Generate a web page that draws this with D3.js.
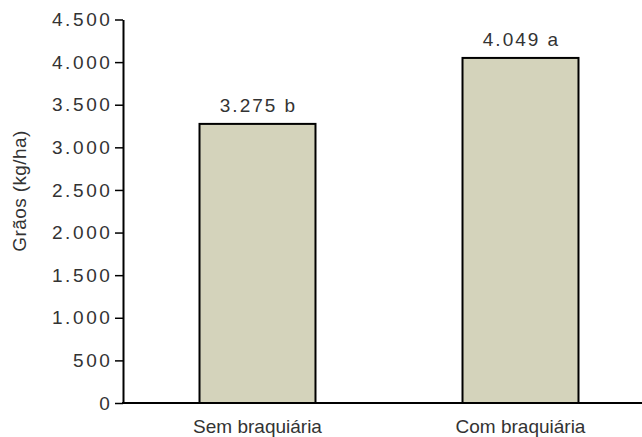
<!DOCTYPE html>
<html>
<head>
<meta charset="utf-8">
<script src="https://cdn.jsdelivr.net/npm/d3@7"></script>
<style>
  body { margin: 0; background: #fff; }
  text { font-family: "Liberation Sans", Arial, sans-serif; fill: #333; }
</style>
</head>
<body>
<svg id="drawing_region"></svg>
<script>
const categories = ['Sem braquiária', 'Com braquiária'];
const values = [3275, 4049];
const letters = ['b', 'a'];
const yTicks = [0, 500, 1000, 1500, 2000, 2500, 3000, 3500, 4000, 4500];

const width = 642, height = 437;
const svg = d3.select('#drawing_region')
    .attr('width', width)
    .attr('height', height);

const fmt = d3.formatLocale({decimal: ',', thousands: '.', grouping: [3], currency: ['', '']}).format(',');

const x0 = 123, x1 = 642, yBottom = 403, yTop = 19.5;

const xscale = d3.scaleBand()
    .domain(categories)
    .range([126, 652])
    .paddingInner(0.559)
    .paddingOuter(0.2795);

const yscale = d3.scaleLinear()
    .domain([0, 4500])
    .range([yBottom, yTop]);

// bars
svg.selectAll('rect.bar')
    .data(values)
    .enter()
    .append('rect')
    .attr('class', 'bar')
    .attr('x', (d, i) => xscale(categories[i]))
    .attr('y', d => yscale(d))
    .attr('width', xscale.bandwidth())
    .attr('height', d => yscale(0) - yscale(d))
    .attr('fill', '#d4d3bb')
    .attr('stroke', '#000')
    .attr('stroke-width', 2);

// value labels
svg.selectAll('text.val')
    .data(values)
    .enter()
    .append('text')
    .attr('class', 'val')
    .attr('x', (d, i) => xscale(categories[i]) + xscale.bandwidth() / 2 + 1)
    .attr('y', d => yscale(d) - 11.5)
    .attr('text-anchor', 'middle')
    .attr('font-size', 19)
    .attr('letter-spacing', 2)
    .text((d, i) => fmt(d) + ' ' + letters[i]);

// y axis
const yaxis = d3.axisLeft(yscale)
    .tickValues(yTicks)
    .tickFormat(fmt)
    .tickSize(8)
    .tickSizeOuter(0)
    .tickPadding(2.5);

const yg = svg.append('g')
    .attr('transform', `translate(${x0},0)`)
    .call(yaxis);
yg.select('.domain').attr('stroke', '#000').attr('stroke-width', 2);
yg.selectAll('.tick line').attr('stroke', '#000').attr('stroke-width', 1.5);
yg.selectAll('.tick text')
    .attr('font-size', 19)
    .attr('letter-spacing', 2.6)
    .attr('font-family', '"Liberation Sans", Arial, sans-serif')
    .attr('fill', '#333');

// x axis line
svg.append('line')
    .attr('x1', x0 - 1).attr('x2', x1)
    .attr('y1', yBottom).attr('y2', yBottom)
    .attr('stroke', '#000')
    .attr('stroke-width', 2);

// category labels
svg.selectAll('text.cat')
    .data(categories)
    .enter()
    .append('text')
    .attr('class', 'cat')
    .attr('x', d => xscale(d) + xscale.bandwidth() / 2)
    .attr('y', 433)
    .attr('text-anchor', 'middle')
    .attr('font-size', 19)
    .text(d => d);

// y title
svg.append('text')
    .attr('transform', 'translate(26,191) rotate(-90)')
    .attr('text-anchor', 'middle')
    .attr('font-size', 19)
    .attr('letter-spacing', 0.4)
    .text('Grãos (kg/ha)');
</script>
</body>
</html>
